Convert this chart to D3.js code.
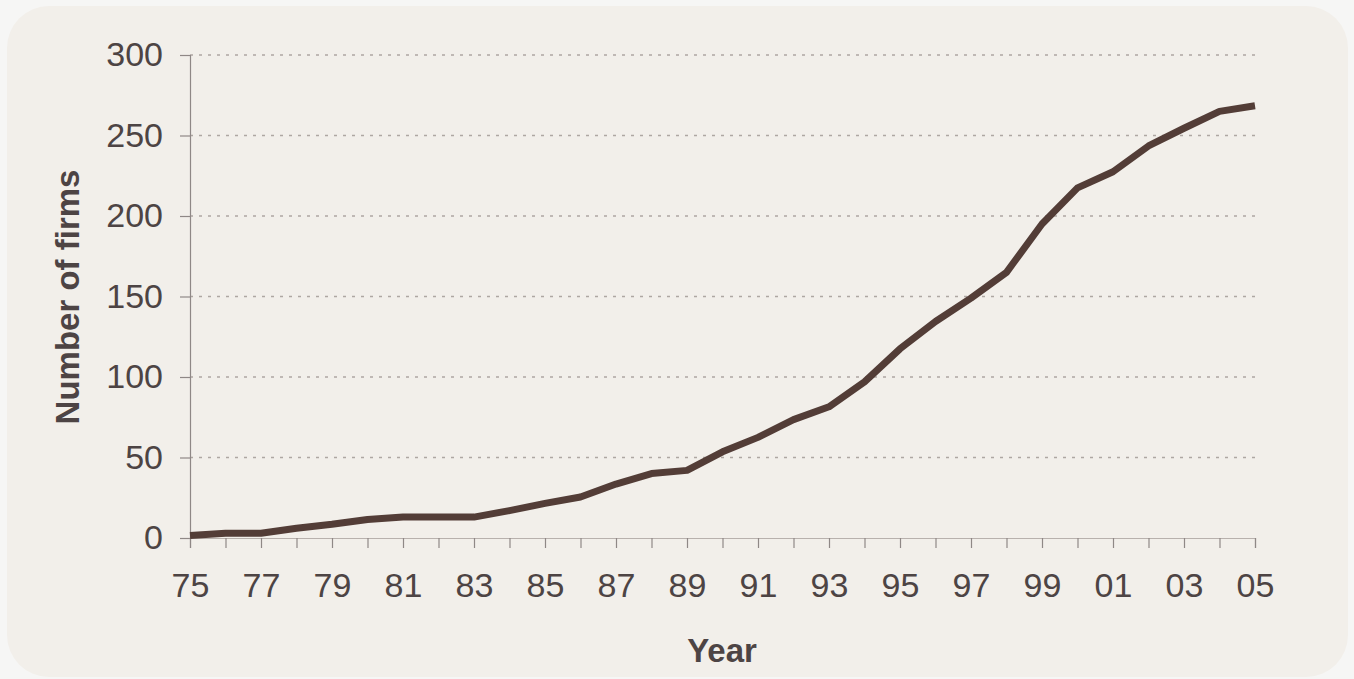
<!DOCTYPE html>
<html>
<head>
<meta charset="utf-8">
<script src="https://cdn.jsdelivr.net/npm/d3@7"></script>
<style>
  html, body { margin: 0; padding: 0; background: #f6f6f5; }
  svg { display: block; }
</style>
</head>
<body>
<svg id="chart" width="1354" height="679"></svg>
<script>
const years = [1975,1976,1977,1978,1979,1980,1981,1982,1983,1984,1985,1986,1987,1988,1989,1990,1991,1992,1993,1994,1995,1996,1997,1998,1999,2000,2001,2002,2003,2004,2005];
const firms = [1.5,3,3,6,8.5,11.5,13,13,13,17,21.5,25.5,33.5,40,42,53.5,62.5,73.5,81.5,97,117.5,134.5,149,165,195,217.5,227.5,243.5,254.5,265,268.5];
const yTicks = [0,50,100,150,200,250,300];
const xLabelYears = [1975,1977,1979,1981,1983,1985,1987,1989,1991,1993,1995,1997,1999,2001,2003,2005];

const svg = d3.select("#chart");
const textColor = "#4d4444";
const font = "'Liberation Sans', Arial, sans-serif";

// panel
svg.append("rect").attr("x", 7).attr("y", 6).attr("width", 1341).attr("height", 671)
  .attr("rx", 42).attr("ry", 42).attr("fill", "#f2efea");

const x = d3.scaleLinear().domain([1975, 2005]).range([190, 1255]);
const y = d3.scaleLinear().domain([0, 300]).range([538, 55]);

// gridlines
svg.append("g").selectAll("line").data(yTicks.filter(d => d > 0)).join("line")
  .attr("x1", x(1975)).attr("x2", x(2005))
  .attr("y1", d => y(d)).attr("y2", d => y(d))
  .attr("stroke", "#aea7a2").attr("stroke-width", 1.3)
  .attr("stroke-dasharray", "3,6");

// y axis
const yAxis = svg.append("g").attr("transform", `translate(${x(1975)},0)`)
  .call(d3.axisLeft(y).tickValues(yTicks).tickSize(10).tickPadding(17).tickFormat(d3.format("d")));
yAxis.select(".domain").attr("stroke", "#8f8886").attr("stroke-width", 1.2);
yAxis.selectAll(".tick line").attr("stroke", "#8f8886").attr("stroke-width", 1.2);
yAxis.selectAll("text").attr("fill", textColor).style("font-family", font).style("font-size", "34px");

// x axis
const xAxis = svg.append("g").attr("transform", `translate(0,${y(0)})`)
  .call(d3.axisBottom(x).tickValues(years).tickSize(10).tickPadding(25)
    .tickFormat(d => xLabelYears.includes(d) ? String(d % 100).padStart(2, "0") : ""));
xAxis.select(".domain").attr("stroke", "#b8b1ad").attr("stroke-width", 1.2);
xAxis.selectAll(".tick line").attr("stroke", "#8f8886").attr("stroke-width", 1.2);
xAxis.selectAll("text").attr("fill", textColor).style("font-family", font).style("font-size", "34px");

// line
const line = d3.line().x((d, i) => x(years[i])).y(d => y(d));
svg.append("path").datum(firms)
  .attr("d", line)
  .attr("fill", "none")
  .attr("stroke", "#533d37")
  .attr("stroke-width", 7)
  .attr("stroke-linejoin", "round");

// axis titles
svg.append("text")
  .attr("transform", `translate(79,297) rotate(-90)`)
  .attr("text-anchor", "middle")
  .attr("fill", textColor)
  .style("font-family", font).style("font-size", "33px").style("font-weight", "bold")
  .text("Number of firms");

svg.append("text")
  .attr("x", 722).attr("y", 662)
  .attr("text-anchor", "middle")
  .attr("fill", textColor)
  .style("font-family", font).style("font-size", "33px").style("font-weight", "bold")
  .text("Year");
</script>
</body>
</html>
